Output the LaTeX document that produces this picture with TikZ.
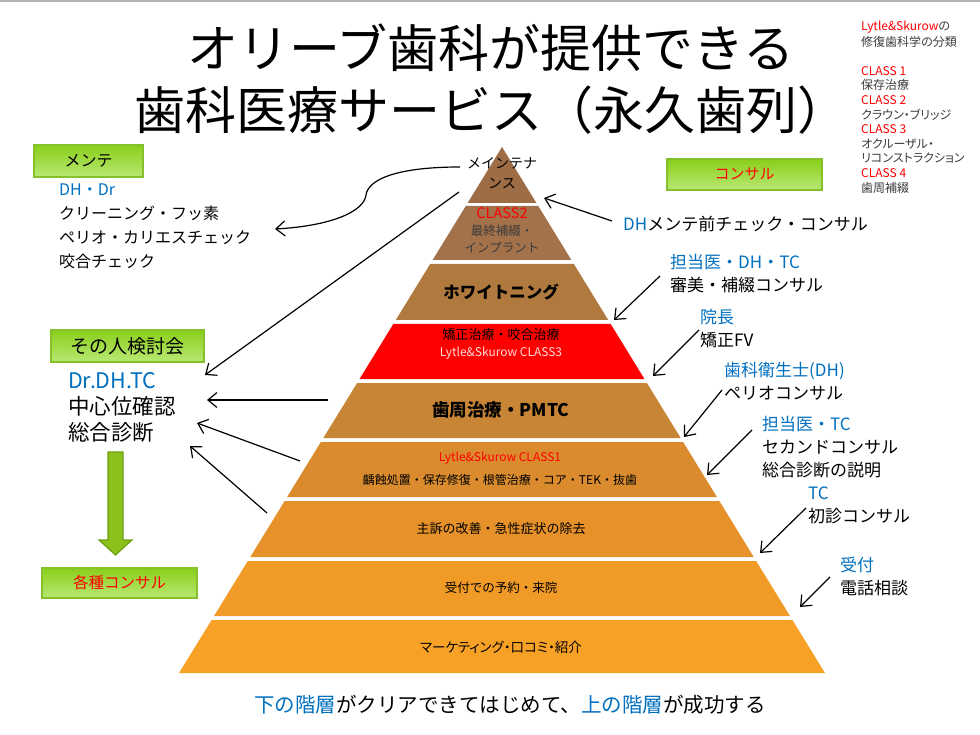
\documentclass[tikz,border=0pt]{standalone}
\usepackage{fontspec}
\setmainfont{Noto Sans CJK JP}
\newfontfamily\legendfont{Noto Sans CJK JP}[RawFeature=+palt]
\usetikzlibrary{arrows.meta}

\definecolor{olblue}{HTML}{0070C0}
\definecolor{olgray}{HTML}{3C3C3C}
\definecolor{olrule}{HTML}{B2B4BA}
\definecolor{greentop}{HTML}{8ACF1A}
\definecolor{greenbot}{HTML}{B9E874}
\definecolor{greenline}{HTML}{84C12B}
\definecolor{arrowgreen}{HTML}{8CC11C}
\definecolor{arrowline}{HTML}{6C9E12}
\definecolor{layA}{HTML}{9E6C45}
\definecolor{layB}{HTML}{A3714A}
\definecolor{layC}{HTML}{B07A3E}
\definecolor{layD}{HTML}{FF0000}
\definecolor{layE}{HTML}{C98536}
\definecolor{layF}{HTML}{D98B2E}
\definecolor{layG}{HTML}{E6912A}
\definecolor{layH}{HTML}{F09A27}
\definecolor{layI}{HTML}{F7A126}
\definecolor{classpink}{HTML}{FFDCDC}

\newcommand{\setfs}[2]{\fontsize{#1}{#2}\selectfont}

\tikzset{
  greenbox/.style={draw=greenline, line width=1.5pt, top color=greentop, bottom color=greenbot, inner sep=0pt},
  pointer/.style={-{Straight Barb[length=9pt,width=15pt]}, line width=1.2pt},
  laytext/.style={align=center, inner sep=0pt},
  sidetext/.style={align=left, anchor=west, inner sep=0pt},
  rightlabel/.style={sidetext, font={\setfs{17}{23}}}
}

\begin{document}
\begin{tikzpicture}[x=1pt,y=-1pt]
\useasboundingbox (0,0) rectangle (980,735);
\fill[white] (0,0) rectangle (980,735);
% thin rule along the top
\fill[olrule] (0,0) rectangle (980,2.5);

% Title
\node[laytext, font={\setfs{51}{62}}] (title) at (491,79) {オリーブ歯科が提供できる\\歯科医療サービス（永久歯列）};

% Pyramid layers, apex at (502,147)
\foreach \ya/\yb/\col in {147/203/layA, 206/260/layB, 264/320/layC, 324/379/layD,
    383/438/layE, 442/497/layF, 501/557/layG, 561/616/layH, 620/673/layI}{
  \pgfmathsetmacro\halfa{(\ya-147)*0.614}
  \pgfmathsetmacro\halfb{(\yb-147)*0.614}
  \fill[\col] (502-\halfa,\ya) -- (502+\halfa,\ya) -- (502+\halfb,\yb) -- (502-\halfb,\yb) -- cycle;
}

% Layer texts
\node[laytext, font={\setfs{14}{20}}] (mainte) at (502,173) {メインテナ\\ンス};
\node[laytext, font={\setfs{12.5}{17}}, text=olgray] (class2) at (502,230) {\textcolor{red}{\setfs{14.5}{17}CLASS2}\\最終補綴・\\インプラント};
\node[laytext, font={\setfs{16.5}{20}\bfseries}] (white) at (501,292) {ホワイトニング};
\node[laytext, font={\setfs{13}{17}}] (kyosei) at (501,344) {矯正治療・咬合治療\\\textcolor{classpink}{\setfs{12}{17}Lytle\&Skurow CLASS3}};
\node[laytext, font={\setfs{17.5}{20}\bfseries}] (shishu) at (501,410) {歯周治療・PMTC};
\node[laytext, font={\setfs{12}{23}}] (class1) at (500,469) {\textcolor{red}{Lytle\&Skurow CLASS1}\\齲蝕処置・保存修復・根管治療・コア・TEK・抜歯};
\node[laytext, font={\setfs{13}{17}}] (shuso) at (501,529) {主訴の改善・急性症状の除去};
\node[laytext, font={\setfs{12.5}{17}}] (yoyaku) at (501,588) {受付での予約・来院};
\node[laytext, font={\setfs{13.5}{17}\legendfont}] (marketing) at (501,647) {マーケティング・口コミ・紹介};

% Classification legend, top right
\node[sidetext, font={\legendfont\setfs{12}{14.6}}, text=olgray] (legend) at (861,107) {\textcolor{red}{Lytle\&Skurow}の\\[1.4pt]修復歯科学の分類\\[14.4pt]\textcolor{red}{CLASS 1}\\保存治療\\\textcolor{red}{CLASS 2}\\クラウン・ブリッジ\\\textcolor{red}{CLASS 3}\\オクルーザル・\\リコンストラクション\\\textcolor{red}{CLASS 4}\\歯周補綴};

% Green boxes
\node[greenbox, minimum width=109pt, minimum height=32pt, font={\setfs{16}{16}}] (mente) at (88.5,161) {メンテ};
\node[greenbox, minimum width=153pt, minimum height=32pt, font={\setfs{19}{19}}] (kentou) at (127.5,346) {その人検討会};
\node[greenbox, minimum width=155pt, minimum height=30pt, font={\setfs{15.5}{15.5}}, text=red] (kakushu) at (119.5,583) {各種コンサル};
\node[greenbox, minimum width=155pt, minimum height=31pt, font={\setfs{15}{15}}, text=red] (consul) at (744.5,174.5) {コンサル};

% Left texts
\node[sidetext, font={\setfs{16}{24}}] (menteinfo) at (59,226) {\textcolor{olblue}{DH・Dr}\\クリーニング・フッ素\\ペリオ・カリエスチェック\\咬合チェック};
\node[sidetext, font={\setfs{21.5}{26}}] (kentouinfo) at (68,407) {\textcolor{olblue}{Dr.DH.TC}\\中心位確認\\総合診断};

% Block arrow down to the consult box
\filldraw[fill=arrowgreen, draw=arrowline, line width=1.2pt] (108,452) -- (123,452) -- (123,540) -- (132,540) -- (115.5,555) -- (99,540) -- (108,540) -- cycle;

% Right texts
\node[rightlabel] (dhcheck) at (623,224) {\textcolor{olblue}{DH}メンテ前チェック・コンサル};
\node[rightlabel] (tanto) at (670,273.5) {\textcolor{olblue}{担当医・DH・TC}\\審美・補綴コンサル};
\node[rightlabel] (incho) at (700,328.5) {\textcolor{olblue}{院長}\\矯正FV};
\node[rightlabel] (eisei) at (724,381.5) {\textcolor{olblue}{歯科衛生士(DH)}\\ペリオコンサル};
\node[rightlabel] (second) at (762,447) {\textcolor{olblue}{担当医・TC}\\セカンドコンサル\\総合診断の説明};
\node[rightlabel] (shoshin) at (808,505.5) {\textcolor{olblue}{TC}\\初診コンサル};
\node[rightlabel] (uketsuke) at (840,576.5) {\textcolor{olblue}{受付}\\電話相談};

% Bottom caption
\node[laytext, font={\setfs{20.5}{24}}] (motto) at (510,705) {\textcolor{olblue}{下の階層}がクリアできてはじめて、\textcolor{olblue}{上の階層}が成功する};

% Arrow ends
\coordinate (rA) at (612,221); \coordinate (tA) at (544,198);
\coordinate (rB) at (660,276); \coordinate (tB) at (614,320);
\coordinate (rC) at (699,330); \coordinate (tC) at (653,376);
\coordinate (rD) at (722,390); \coordinate (tD) at (684,437);
\coordinate (rE) at (752,430); \coordinate (tE) at (707,475);
\coordinate (rF) at (806,508); \coordinate (tF) at (760,553);
\coordinate (rG) at (830,577); \coordinate (tG) at (800,607);
\coordinate (lA) at (459,192); \coordinate (kA) at (205,375);
\coordinate (lB) at (328,400); \coordinate (kB) at (207,400);
\coordinate (lC) at (300,461); \coordinate (kC) at (197,423);
\coordinate (lD) at (267,513); \coordinate (kD) at (190,446);
\coordinate (cS) at (460,167); \coordinate (cM) at (366,195); \coordinate (cT) at (275,229);

% Arrows into the pyramid and back to the left
\foreach \s/\t in {rA/tA, rB/tB, rC/tC, rD/tD, rE/tE, rF/tF, rG/tG, lA/kA, lB/kB, lC/kC, lD/kD}
  \draw[pointer] (\s) -- (\t);
\draw[pointer] (cS) .. controls (395,167) and (368,180) .. (cM) .. controls (364,212) and (330,226) .. (cT);
\end{tikzpicture}
\end{document}
